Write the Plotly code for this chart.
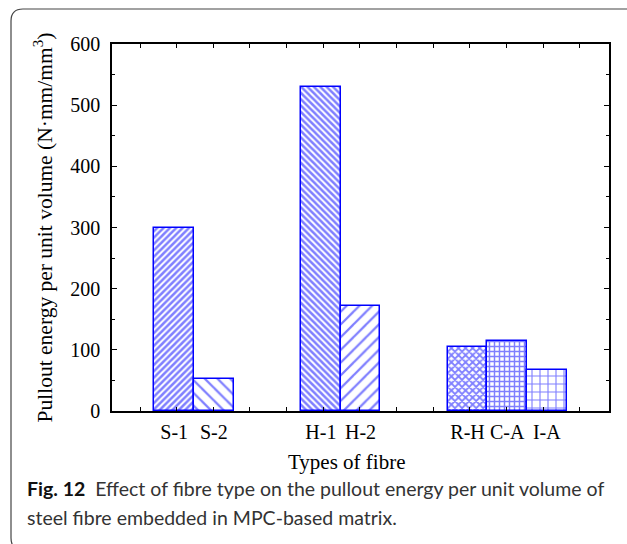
import plotly.graph_objects as go

# ---- data ----
groups = [["S-1", "S-2"], ["H-1", "H-2"], ["R-H", "C-A", "I-A"]]
categories = [c for g in groups for c in g]
energy = [300, 52, 530, 172, 104, 114, 67]
y_tick_values = [0, 100, 200, 300, 400, 500, 600]

# ---- styles ----
pattern_shapes = ["/", "\\", "\\", "/", "x", "+", "+"]
pattern_sizes = [4.5, 9, 4.5, 9, 5, 5, 8]
pattern_solid = [0.55, 0.25, 0.55, 0.25, 0.6, 0.5, 0.26]
BLUE = "#0000ff"
SERIF = "Liberation Serif"

# ---- layout geometry (bar width = 1 unit) ----
edge_margin = 1.07
group_gap = 1.7
xpos = []
pos = edge_margin + 0.5
for g in groups:
    for _ in g:
        xpos.append(pos)
        pos += 1
    pos += group_gap
xmax = 2 * edge_margin + len(categories) + group_gap * (len(groups) - 1)

W, H = 627, 544
L, R, T, B = 112, 18, 44, 133
pw, ph = W - L - R, H - T - B


def px2paper_x(px):
    return (px - L) / pw


def px2paper_y(py):
    return (H - B - py) / ph


fig = go.Figure()
fig.add_trace(go.Bar(
    x=xpos, y=energy, width=1,
    marker=dict(
        color="white",
        line=dict(color=BLUE, width=1.5),
        pattern=dict(shape=pattern_shapes, size=pattern_sizes,
                     solidity=pattern_solid, fgcolor=BLUE, bgcolor="white"),
    ),
    showlegend=False, hoverinfo="x+y",
))
fig.add_trace(go.Scatter(x=[None], y=[None], xaxis="x2", showlegend=False,
                         hoverinfo="skip"))

# outer rounded frame
fl, ft, fr, fb, rad = 11, 9, 638, 550, 12
X = px2paper_x
Y = px2paper_y
path = (f"M {X(fl)},{Y(ft + rad)} Q {X(fl)},{Y(ft)} {X(fl + rad)},{Y(ft)} "
        f"L {X(fr - rad)},{Y(ft)} Q {X(fr)},{Y(ft)} {X(fr)},{Y(ft + rad)} "
        f"L {X(fr)},{Y(fb - rad)} Q {X(fr)},{Y(fb)} {X(fr - rad)},{Y(fb)} "
        f"L {X(fl + rad)},{Y(fb)} Q {X(fl)},{Y(fb)} {X(fl)},{Y(fb - rad)} Z")

fig.update_layout(
    width=W, height=H,
    margin=dict(l=L, r=R, t=T, b=B),
    paper_bgcolor="white", plot_bgcolor="white",
    bargap=0,
    xaxis=dict(range=[0, xmax], tickmode="array", tickvals=xpos,
               ticktext=categories, ticks="", showline=True, linecolor="black",
               linewidth=1.5, mirror=True, showgrid=False, zeroline=False,
               tickfont=dict(family=SERIF, size=20, color="black"),
               ticklabelstandoff=2),
    xaxis2=dict(overlaying="x", range=[0, xmax], side="bottom",
                tickmode="linear", tick0=0.7066, dtick=0.925, ticks="inside",
                ticklen=4, tickcolor="black", tickwidth=1.2,
                showticklabels=False, mirror="ticks", showline=False,
                showgrid=False, zeroline=False),
    yaxis=dict(range=[0, 600], tickmode="array", tickvals=y_tick_values,
               ticks="inside", ticklen=5, tickcolor="black", tickwidth=1.2,
               minor=dict(dtick=50, ticks="inside", ticklen=3,
                          tickcolor="black", showgrid=False),
               showline=True, linecolor="black", linewidth=1.5, mirror="ticks",
               showgrid=False, zeroline=False,
               tickfont=dict(family=SERIF, size=20, color="black"),
               ticklabelstandoff=6,
               title=dict(text="Pullout energy per unit volume (N·mm/mm<sup>3</sup>)",
                          font=dict(family=SERIF, size=21.5, color="black"),
                          standoff=12)),
    shapes=[dict(type="path", xref="paper", yref="paper", path=path,
                 line=dict(color="#444444", width=1.2), fillcolor="rgba(0,0,0,0)")],
    annotations=[
        dict(text="Types of fibre", xref="paper", yref="paper",
             x=X(347), y=Y(462), xanchor="center", yanchor="middle",
             showarrow=False, font=dict(family=SERIF, size=21, color="black")),
        dict(text="<b style='color:#111'>Fig. 12</b>\u00a0 Effect of fibre type on the pullout energy per unit volume of",
             xref="paper", yref="paper", x=X(25), y=Y(488), xanchor="left",
             yanchor="middle", showarrow=False,
             font=dict(family="Lato", size=19.5, color="#333333")),
        dict(text="steel fibre embedded in MPC-based matrix.",
             xref="paper", yref="paper", x=X(25), y=Y(517), xanchor="left",
             yanchor="middle", showarrow=False,
             font=dict(family="Lato", size=19.5, color="#333333")),
    ],
)

fig.write_html("out.html")
